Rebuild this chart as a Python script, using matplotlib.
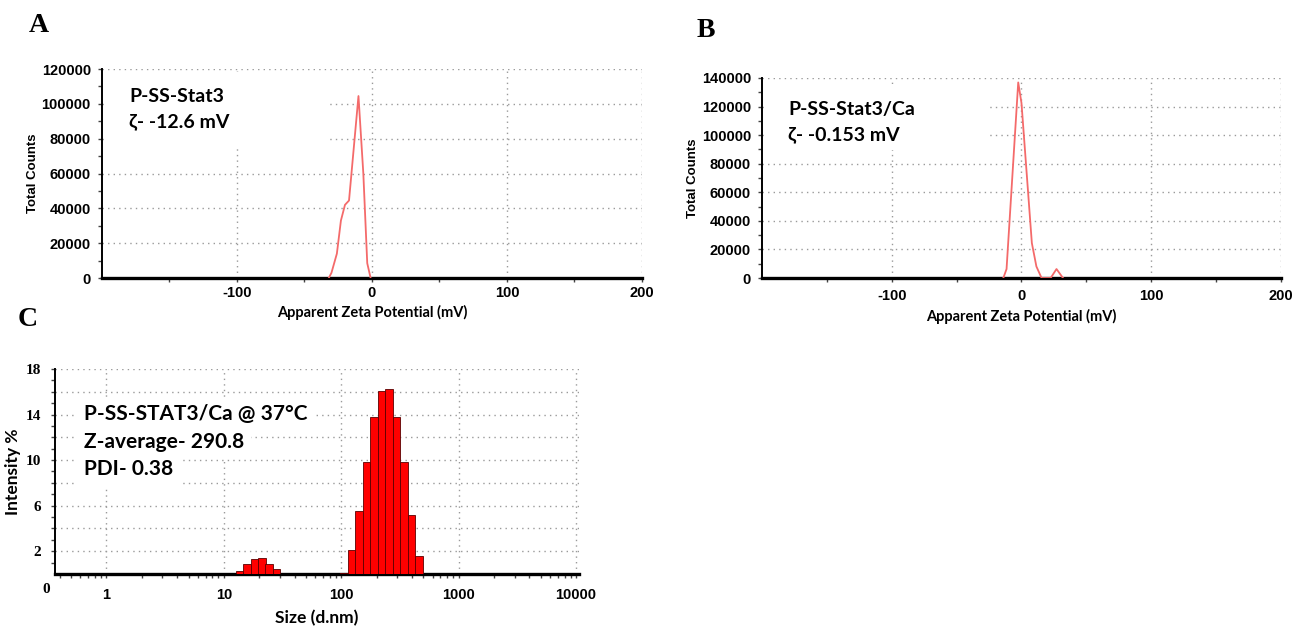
import matplotlib.pyplot as plt
from matplotlib.patches import Rectangle
from matplotlib.ticker import FixedLocator, LogLocator, NullFormatter
import numpy as np

plt.rcParams['axes.unicode_minus'] = False

# Panel A: zeta potential, P-SS-Stat3
zeta_a = [-32, -30, -26, -23, -20, -17, -10, -6.4, -3.5, -1]
counts_a = [0, 3000, 14000, 33000, 42000, 44500, 104500, 60000, 8500, 0]

# Panel B: zeta potential, P-SS-Stat3/Ca
zeta_b = [-14, -11.5, -2.5, 0, 8, 11.5, 15.5, 22.5, 27, 32]
counts_b = [0, 6300, 136900, 122500, 24500, 8100, 0, 0, 6300, 0]

# Panel C: size distribution by intensity (Zetasizer bins, d.nm)
size_nm = [13.54, 15.69, 18.17, 21.04, 24.36, 28.21,
           105.7, 122.4, 141.8, 164.2, 190.1, 220.2, 255.0, 295.3, 342.0, 396.1, 458.7]
intensity = [0.3, 0.9, 1.3, 1.4, 0.9, 0.4,
             0.1, 2.1, 5.5, 9.8, 13.8, 16.1, 16.2, 13.8, 9.8, 5.2, 1.6]
bin_ratio = 1.158

ANNOT = ['Lato', 'DejaVu Sans']
TICKF = ['Liberation Sans', 'DejaVu Sans']
SERIF = ['Liberation Serif', 'DejaVu Serif']
LINE_RED = '#f46a6a'
GRID = dict(color='#9a9a9a', linestyle=(0, (1, 3)), linewidth=1.0)

fig = plt.figure(figsize=(12.99, 6.32), dpi=100)


def style_axes(ax):
    ax.set_axisbelow(True)
    for s in ['top', 'right']:
        ax.spines[s].set_visible(False)
    ax.spines['left'].set_linewidth(1.4)
    ax.spines['bottom'].set_linewidth(2.4)
    ax.grid(True, which='major', **GRID)
    ax.tick_params(which='both', direction='out', width=1, color='#444444')
    ax.tick_params(which='major', length=3)
    ax.tick_params(which='minor', length=3)


def zeta_panel(rect, xs, ys, ymax, label, lines, text_y, mask, xpads):
    ax = fig.add_axes(rect)
    style_axes(ax)
    ax.plot(xs, ys, color=LINE_RED, lw=1.3, zorder=3)
    ax.set_xlim(-200, 200)
    ax.set_ylim(0, ymax)
    ax.xaxis.set_major_locator(FixedLocator([-100, 0, 100, 200]))
    ax.xaxis.set_minor_locator(FixedLocator([-150, -50, 50, 150]))
    ax.yaxis.set_major_locator(FixedLocator(np.arange(0, ymax + 1, 20000)))
    ax.yaxis.set_minor_locator(FixedLocator(np.arange(10000, ymax, 20000)))
    ax.tick_params(axis='x', pad=xpads[0])
    ax.tick_params(axis='y', pad=5)
    for t in ax.get_xticklabels() + ax.get_yticklabels():
        t.set_fontfamily(TICKF)
        t.set_fontweight('bold')
        t.set_fontsize(10.5)
    ax.set_xlabel('Apparent Zeta Potential (mV)', fontfamily=ANNOT,
                  fontweight='bold', fontsize=10.5, labelpad=xpads[1])
    ax.set_ylabel('Total Counts', fontfamily=TICKF, fontweight='bold',
                  fontsize=9.5)
    ax.yaxis.set_label_coords(-63 / (rect[2] * 1299), 0.5)
    ax.add_patch(Rectangle((0.003, mask[1]), mask[0], mask[2] - mask[1],
                           transform=ax.transAxes, facecolor='white',
                           edgecolor='none', zorder=1))
    for txt, y in zip(lines, text_y):
        ax.text(0.05, y, txt, transform=ax.transAxes,
                fontfamily=ANNOT, fontweight='bold', fontsize=14,
                va='center', ha='left', zorder=4)
    fig.text(rect[0] - label[1], rect[1] + rect[3] + label[2], label[0],
             fontfamily=SERIF, fontweight='bold', fontsize=20,
             ha='center', va='center')
    return ax


axA = zeta_panel([0.0785, 0.5601, 0.4157, 0.3307], zeta_a, counts_a, 120000,
                 ('A', 0.049, 0.069), ['P-SS-Stat3', 'ζ- -12.6 mV'], [0.87, 0.75],
                 (0.42, 0.63, 0.985), (3, 3))
axB = zeta_panel([0.5866, 0.5601, 0.3995, 0.3165], zeta_b, counts_b, 140000,
                 ('B', 0.043, 0.075), ['P-SS-Stat3/Ca', 'ζ- -0.153 mV'], [0.84, 0.715],
                 (0.43, 0.64, 0.97), (5, 4))

# Panel C
axC = fig.add_axes([0.0423, 0.0918, 0.4034, 0.3244])
style_axes(axC)
sizes = np.array(size_nm)
lefts = sizes / np.sqrt(bin_ratio)
widths = sizes * np.sqrt(bin_ratio) - lefts
axC.bar(lefts, intensity, width=widths, align='edge', color='#ff0000',
        edgecolor='#5a0000', linewidth=0.6, zorder=3)
axC.set_xscale('log')
axC.set_xlim(0.364, 10600)
axC.set_ylim(0, 18)
axC.xaxis.set_major_locator(FixedLocator([1, 10, 100, 1000, 10000]))
axC.xaxis.set_minor_locator(LogLocator(base=10, subs=np.arange(2, 10), numticks=20))
axC.xaxis.set_minor_formatter(NullFormatter())
axC.set_xticklabels(['1', '10', '100', '1000', '10000'])
axC.yaxis.set_major_locator(FixedLocator(np.arange(2, 19, 2)))
axC.yaxis.set_minor_locator(FixedLocator(np.arange(1, 18, 2)))
axC.set_yticklabels(['2', '', '6', '', '10', '', '14', '', '18'])
axC.tick_params(axis='x', pad=7)
axC.tick_params(axis='y', pad=7, length=3)
for t in axC.get_xticklabels():
    t.set_fontfamily(TICKF)
    t.set_fontweight('bold')
    t.set_fontsize(10.5)
for t in axC.get_yticklabels():
    t.set_fontfamily(SERIF)
    t.set_fontweight('bold')
    t.set_fontsize(11)
axC.text(-0.016, -0.075, '0', transform=axC.transAxes, ha='center', va='center',
         fontfamily=SERIF, fontweight='bold', fontsize=11)
axC.set_xlabel('Size (d.nm)', fontfamily=ANNOT, fontweight='bold', fontsize=12.5,
               labelpad=6)
axC.set_ylabel('Intensity %', fontfamily=ANNOT, fontweight='bold', fontsize=12.5)
axC.yaxis.set_label_coords(-0.064, 0.5)
for i, txt in enumerate(['P-SS-STAT3/Ca @ 37°C', 'Z-average- 290.8', 'PDI- 0.38']):
    axC.text(0.055, 0.78 - i * 0.135, txt, transform=axC.transAxes,
             fontfamily=ANNOT, fontweight='bold', fontsize=15, va='center',
             ha='left', zorder=4,
             bbox=dict(boxstyle='square,pad=0.35', facecolor='white',
                       edgecolor='none'))
fig.text(0.021, 0.494, 'C', fontfamily=SERIF, fontweight='bold', fontsize=20,
         ha='center', va='center')

fig.savefig('out.png', dpi=100)
